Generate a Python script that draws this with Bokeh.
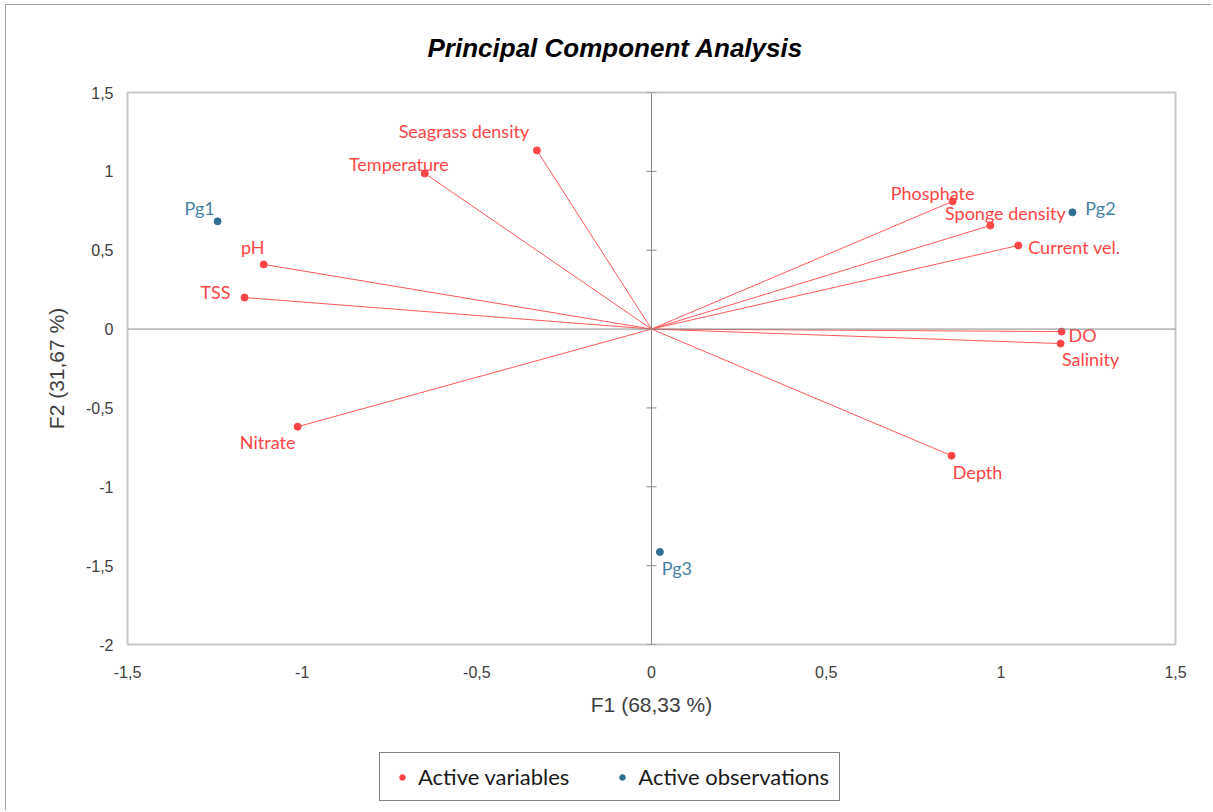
from bokeh.plotting import figure
from bokeh.layouts import column
from bokeh.models import Range1d, FixedTicker, Span, Legend, LegendItem, ColumnDataSource
from bokeh.embed import file_html
from bokeh.resources import INLINE
from bokeh.core.properties import value

# ---- data ----
variables = ["Seagrass density", "Temperature", "pH", "TSS", "Nitrate",
             "Phosphate", "Sponge density", "Current vel.", "DO", "Salinity", "Depth"]
var_f1 = [-0.328, -0.649, -1.110, -1.165, -1.013, 0.862, 0.970, 1.050, 1.174, 1.171, 0.859]
var_f2 = [1.133, 0.987, 0.410, 0.200, -0.619, 0.810, 0.657, 0.530, -0.016, -0.092, -0.803]

observations = ["Pg1", "Pg2", "Pg3"]
obs_f1 = [-1.242, 1.205, 0.024]
obs_f2 = [0.683, 0.740, -1.413]

x_ticks = [-1.5, -1, -0.5, 0, 0.5, 1, 1.5]
x_tick_labels = ["-1,5", "-1", "-0,5", "0", "0,5", "1", "1,5"]
y_ticks = [-2, -1.5, -1, -0.5, 0, 0.5, 1, 1.5]
y_tick_labels = ["-2", "-1,5", "-1", "-0,5", "0", "0,5", "1", "1,5"]

# label offsets in pixels (style only)
var_dx = [-73, -26, -11, -29, -30, -20, 15, 56, 21, 30, 26]
var_dy = [-19, -9, -17, -6, 15, -8, -12, 2, 3, 15, 16]
obs_dx = [-18, 28, 17]
obs_dy = [-13, -4, 16]

RED = "#FF4545"
RED_LINE = "#FF5A5A"
BLUE = "#2F6F92"
BLUE_TXT = "#4582A8"
AXIS_TXT = "#404040"

p = figure(width=1205, height=735, output_backend="svg", toolbar_location=None,
           x_range=Range1d(-1.5, 1.5), y_range=Range1d(-2, 1.5),
           min_border_left=121, min_border_right=36, min_border_top=87, min_border_bottom=96)

p.title.text = "Principal Component Analysis"
p.title.text_font = "Liberation Sans"
p.title.text_font_style = "bold italic"
p.title.text_font_size = "26px"
p.title.text_color = "black"
p.title.align = "left"
p.title.vertical_align = "top"
p.title.offset = 300
p.title.standoff = 55

p.outline_line_color = "#C8C8C8"
p.outline_line_width = 2
p.xgrid.visible = False
p.ygrid.visible = False

for ax, ticks, labels in ((p.xaxis[0], x_ticks, x_tick_labels), (p.yaxis[0], y_ticks, y_tick_labels)):
    ax.ticker = FixedTicker(ticks=ticks)
    ax.major_label_overrides = {t: l for t, l in zip(ticks, labels)}
    ax.axis_line_color = None
    ax.major_tick_line_color = None
    ax.minor_tick_line_color = None
    ax.major_tick_out = 0
    ax.major_tick_in = 0
    ax.major_label_text_font = "Liberation Sans"
    ax.major_label_text_font_size = "16px"
    ax.major_label_text_color = AXIS_TXT
    ax.axis_label_text_font = "Liberation Sans"
    ax.axis_label_text_font_size = "21px"
    ax.axis_label_text_font_style = "normal"
    ax.axis_label_text_color = AXIS_TXT

p.xaxis.axis_label = "F1 (68,33 %)"
p.yaxis.axis_label = "F2 (31,67 %)"
p.xaxis.major_label_standoff = 21
p.yaxis.major_label_standoff = 14
p.xaxis.axis_label_standoff = 12
p.yaxis.axis_label_standoff = 15

# central axes
p.add_layout(Span(location=0, dimension="width", line_color="#888888", line_width=1))
p.add_layout(Span(location=0, dimension="height", line_color="#888888", line_width=1))
p.scatter(x=[0] * len(y_ticks), y=y_ticks, marker="dash", size=10, line_color="#888888", line_width=1)

# variable vectors
vsrc = ColumnDataSource(dict(x0=[0] * len(variables), y0=[0] * len(variables),
                             x=var_f1, y=var_f2, name=variables, dx=var_dx, dy=var_dy))
p.segment(x0="x0", y0="y0", x1="x", y1="y", source=vsrc, line_color=RED_LINE, line_width=1)
p.scatter(x="x", y="y", source=vsrc, size=7, fill_color=RED, line_color=RED)
p.text(x="x", y="y", text="name", source=vsrc, x_offset="dx", y_offset="dy",
       text_align="center", text_baseline="middle", text_color=RED,
       text_font=value("Lato"), text_font_size="18px")

osrc = ColumnDataSource(dict(x=obs_f1, y=obs_f2, name=observations, dx=obs_dx, dy=obs_dy))
p.scatter(x="x", y="y", source=osrc, size=7, fill_color=BLUE, line_color=BLUE)
p.text(x="x", y="y", text="name", source=osrc, x_offset="dx", y_offset="dy",
       text_align="center", text_baseline="middle", text_color=BLUE_TXT,
       text_font=value("Lato"), text_font_size="18px")

# legend strip below the chart (its ranges keep the proxy markers out of view)
p2 = figure(width=1205, height=70, output_backend="svg", toolbar_location=None,
            x_range=Range1d(10, 11), y_range=Range1d(10, 11), x_axis_type=None, y_axis_type=None,
            min_border=0, outline_line_color=None)
p2.grid.visible = False
l_var = p2.scatter(x="x", y="y", source=vsrc, size=7, fill_color=RED, line_color=RED)
l_obs = p2.scatter(x="x", y="y", source=osrc, size=7, fill_color=BLUE, line_color=BLUE)

legend = Legend(items=[LegendItem(label="Active variables", renderers=[l_var]),
                       LegendItem(label="Active observations", renderers=[l_obs])],
                orientation="horizontal", location=(252, 9),
                label_text_font="Lato", label_text_font_size="22px", label_text_color="#1A1A1A",
                glyph_width=24, glyph_height=14, label_standoff=4, spacing=41,
                padding=10, margin=0, border_line_color="black", border_line_width=1,
                background_fill_color="white", background_fill_alpha=1)
p2.add_layout(legend, "center")

layout = column(p, p2, spacing=0)
layout.styles = {"margin-left": "5px", "margin-top": "4px",
                 "border-left": "1px solid #A0A0A0", "border-top": "1px solid #A0A0A0"}

open("out.html", "w").write(file_html(layout, INLINE))
